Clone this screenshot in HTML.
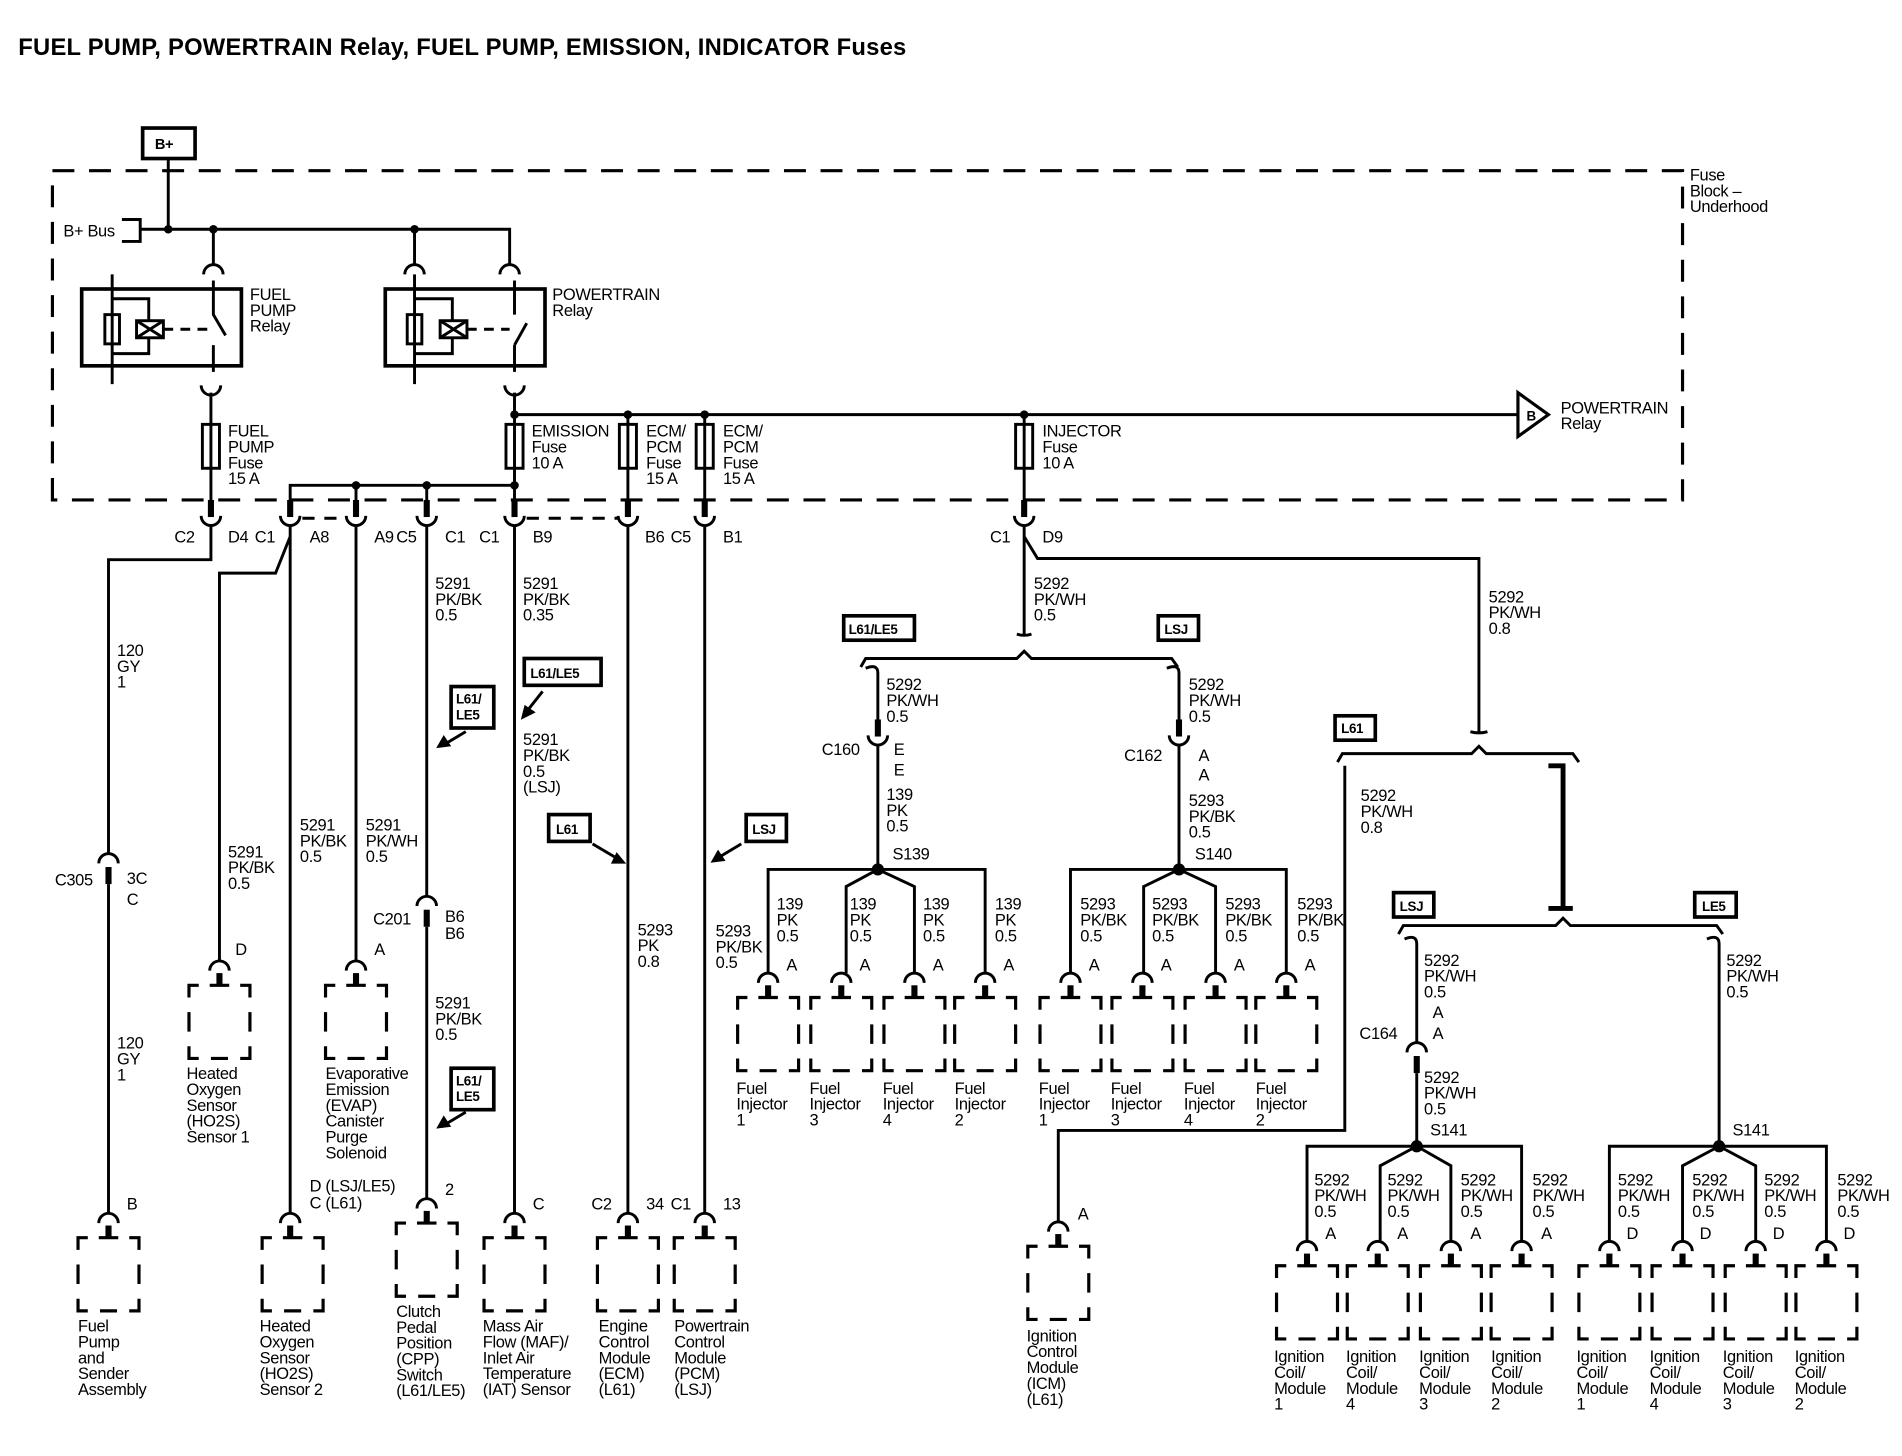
<!DOCTYPE html>
<html><head><meta charset="utf-8"><style>
html,body{margin:0;padding:0;background:#fff;}
svg{display:block}
text{font-family:"Liberation Sans",Arial,sans-serif;font-size:13.5px;fill:#000;letter-spacing:-0.3px}
.b{font-weight:bold}
</style></head><body>
<svg width="1902" height="1456" viewBox="0 0 1560 1194" preserveAspectRatio="none" xmlns="http://www.w3.org/2000/svg">
<defs>
<g id="cu"><rect x="-2.5" y="-22" width="5" height="14" fill="#000" stroke="none"/><path d="M-8,-9 A8,8 0 0 0 8,-9" fill="none" stroke="#000" stroke-width="2.4"/></g>
<g id="cd"><path d="M-8,8 A8,8 0 0 1 8,8" fill="none" stroke="#000" stroke-width="2.4"/><rect x="-2.5" y="11" width="5" height="14" fill="#000" stroke="none"/></g>
<g id="ct"><path d="M-8,8 A8,8 0 0 1 8,8" fill="none" stroke="#000" stroke-width="2.4"/><rect x="-2.5" y="10" width="5" height="10" fill="#000" stroke="none"/></g>
<path id="bx" d="M0,10 V0 H8 M42,0 H50 V10 M0,50 V60 H8 M42,60 H50 V50 M0,22 V38 M50,22 V38 M18,60 H32 M17,0 H33" fill="none" stroke="#000" stroke-width="2.6"/>
</defs>
<g fill="none" stroke="#000" stroke-width="2.4">
<rect x="117" y="105" width="43" height="25" stroke-width="3"/>
<path d="M138,130 V188 M100,180 H115 V198 H100 M115,188 H418 V218 M175,188 V218 M340,188 V218"/>
<path d="M43,410 V140 H1380 V410 Z" stroke-dasharray="18 12" stroke-width="2.6"/>
<rect x="67" y="237" width="131" height="63" stroke-width="3"/>
<rect x="316" y="237" width="131" height="63" stroke-width="3"/>
<path d="M92,225 V315 M92,245 H122 V263 M92,290 H122 V277" />
<rect x="86" y="258" width="12" height="24"/><rect x="112" y="263" width="22" height="14"/>
<path d="M112,263 L134,277 M112,277 L134,263"/>
<path d="M134,270 H170" stroke-dasharray="8 6"/>
<path d="M175,230 V258 L185,275 M175,283 V305"/>
<path d="M340,225 V315 M340,245 H371 V263 M340,290 H371 V277"/>
<rect x="334" y="258" width="12" height="24"/><rect x="361" y="263" width="22" height="14"/>
<path d="M361,263 L383,277 M361,277 L383,263"/>
<path d="M383,270 H418" stroke-dasharray="8 6"/>
<path d="M422,230 V258 M422,283 L432,265 M422,283 V305"/>
<path d="M167,225 A8,8 0 0 1 183,225 M332,225 A8,8 0 0 1 348,225 M410,225 A8,8 0 0 1 426,225"/>
<path d="M165,316 A8,8 0 0 0 181,316 M414,316 A8,8 0 0 0 430,316"/>
<path d="M173,322 V410 M422,322 V410 M422,340 H1245 M515,340 V410 M578,340 V410 M840,340 V410"/>
<rect x="166" y="348" width="14" height="36"/><rect x="415" y="348" width="14" height="36"/>
<rect x="508" y="348" width="14" height="36"/><rect x="571" y="348" width="14" height="36"/>
<rect x="833" y="348" width="14" height="36"/>
<path d="M1245,322 L1270,340 L1245,358 Z" stroke-width="2.6"/>
<path d="M238,410 V398 H422 M292,398 V410 M350,398 V410"/>
<path d="M248,425 H282 M432,425 H508" stroke-dasharray="10 8"/>
</g>
<g fill="#000"><circle cx="138" cy="188" r="3.5"/><circle cx="175" cy="188" r="3.5"/><circle cx="340" cy="188" r="3.5"/><circle cx="422" cy="340" r="3.5"/><circle cx="515" cy="340" r="3.5"/><circle cx="578" cy="340" r="3.5"/><circle cx="840" cy="340" r="3.5"/><circle cx="292" cy="398" r="3.5"/><circle cx="350" cy="398" r="3.5"/><circle cx="422" cy="398" r="3.5"/>
<circle cx="720" cy="713" r="5"/><circle cx="967" cy="713" r="5"/><circle cx="1162" cy="940" r="5"/><circle cx="1410" cy="940" r="5"/></g>
<use href="#cu" x="173" y="432"/><use href="#cu" x="238" y="432"/><use href="#cu" x="292" y="432"/><use href="#cu" x="350" y="432"/><use href="#cu" x="422" y="432"/><use href="#cu" x="515" y="432"/><use href="#cu" x="578" y="432"/><use href="#cu" x="840" y="432"/>
<g fill="none" stroke="#000" stroke-width="2.4">
<path d="M173,432 V459 H89 V700 M89,725 V995"/>
<path d="M238,432 V995 M238,440 L226,470 H180 V788"/>
<path d="M292,432 V788 M350,432 V735 M350,760 V983 M422,432 V995 M515,432 V995 M578,432 V995"/>
<path d="M840,432 V520 M834,520 Q840,522 846,520 M840,440 L851,458 H1213 V600 M1206,600 Q1213,602 1220,600"/>
<path d="M706,547 L710,540 H834 L840,534 L846,540 H961 L966,547"/>
<path d="M1097,625 L1101,618 H1207 L1213,612 L1219,618 H1290 L1295,625"/>
<path d="M1103,628 V927 H868 V1002"/>
<path d="M1270,628 H1282 V745 M1270,745 H1290" stroke-width="4"/>
<path d="M1147,766 L1151,759 H1276 L1282,753 L1288,759 H1408 L1413,766"/>
<path d="M710,548 Q720,544 720,552 V598 M720,612 V713 M630,798 V713 H808 V798 M720,713 L694,727 V798 M720,713 L750,727 V798"/>
<path d="M957,548 Q967,544 967,552 V598 M967,612 V713 M878,798 V713 H1055 V798 M967,713 L938,727 V798 M967,713 L997,727 V798"/>
<path d="M1152,770 Q1162,766 1162,774 V855 M1162,880 V940 M1072,1018 V940 H1248 V1018 M1162,940 L1132,956 V1018 M1162,940 L1190,956 V1018"/>
<path d="M1400,770 Q1410,766 1410,774 V940 M1320,1018 V940 H1498 V1018 M1410,940 L1380,956 V1018 M1410,940 L1440,956 V1018"/>
<rect x="370" y="563" width="35" height="34" stroke-width="3"/><path d="M382,600 L362,612"/><path d="M360,612 l8,-1 l-4,-6 z" fill="#000"/>
<rect x="370" y="876" width="35" height="34" stroke-width="3"/><path d="M382,912 L362,924"/><path d="M360,924 l8,-1 l-4,-6 z" fill="#000"/>
<rect x="430" y="540" width="63" height="22" stroke-width="3"/><path d="M445,567 L430,586"/><path d="M429,588 l2,-8 l6,4 z" fill="#000"/>
<rect x="450" y="668" width="34" height="22" stroke-width="3"/><path d="M486,692 L508,705"/><path d="M511,707 l-8,0 l3,-6 z" fill="#000"/>
<rect x="612" y="668" width="33" height="22" stroke-width="3"/><path d="M608,692 L588,704"/><path d="M585,706 l8,-1 l-4,-6 z" fill="#000"/>
<rect x="692" y="505" width="58" height="20" stroke-width="3"/>
<rect x="950" y="505" width="33" height="20" stroke-width="3"/>
<rect x="1095" y="587" width="33" height="20" stroke-width="3"/>
<rect x="1143" y="732" width="33" height="20" stroke-width="3"/>
<rect x="1390" y="732" width="34" height="20" stroke-width="3"/>
</g>
<use href="#cd" x="89" y="700"/><use href="#cd" x="350" y="735"/><use href="#cd" x="1162" y="855"/>
<use href="#cu" x="720" y="612"/><use href="#cu" x="967" y="612"/>
<use href="#ct" x="89" y="995"/><use href="#ct" x="180" y="788"/><use href="#ct" x="238" y="995"/><use href="#ct" x="292" y="788"/><use href="#ct" x="350" y="983"/><use href="#ct" x="422" y="995"/><use href="#ct" x="515" y="995"/><use href="#ct" x="578" y="995"/>
<use href="#ct" x="630" y="798"/><use href="#ct" x="690" y="798"/><use href="#ct" x="750" y="798"/><use href="#ct" x="808" y="798"/>
<use href="#ct" x="878" y="798"/><use href="#ct" x="937" y="798"/><use href="#ct" x="997" y="798"/><use href="#ct" x="1055" y="798"/>
<use href="#ct" x="868" y="1002"/>
<use href="#ct" x="1072" y="1018"/><use href="#ct" x="1130" y="1018"/><use href="#ct" x="1190" y="1018"/><use href="#ct" x="1248" y="1018"/>
<use href="#ct" x="1320" y="1018"/><use href="#ct" x="1380" y="1018"/><use href="#ct" x="1440" y="1018"/><use href="#ct" x="1498" y="1018"/>
<use href="#bx" x="64" y="1015"/><use href="#bx" x="155" y="808"/><use href="#bx" x="215" y="1015"/><use href="#bx" x="267" y="808"/><use href="#bx" x="325" y="1003"/><use href="#bx" x="397" y="1015"/><use href="#bx" x="490" y="1015"/><use href="#bx" x="553" y="1015"/>
<use href="#bx" x="605" y="818"/><use href="#bx" x="665" y="818"/><use href="#bx" x="725" y="818"/><use href="#bx" x="783" y="818"/>
<use href="#bx" x="853" y="818"/><use href="#bx" x="912" y="818"/><use href="#bx" x="972" y="818"/><use href="#bx" x="1030" y="818"/>
<use href="#bx" x="843" y="1022"/>
<use href="#bx" x="1047" y="1038"/><use href="#bx" x="1105" y="1038"/><use href="#bx" x="1165" y="1038"/><use href="#bx" x="1223" y="1038"/>
<use href="#bx" x="1295" y="1038"/><use href="#bx" x="1355" y="1038"/><use href="#bx" x="1415" y="1038"/><use href="#bx" x="1473" y="1038"/>

<text x="15" y="45" class="b" style="font-size:19.5px;letter-spacing:0.2px">FUEL PUMP, POWERTRAIN Relay, FUEL PUMP, EMISSION, INDICATOR Fuses</text>
<text x="127" y="122" class="b" style="font-size:12px">B+</text>
<text x="52" y="194">B+ Bus</text>
<text x="1386" y="148"><tspan x="1386">Fuse</tspan><tspan x="1386" dy="13">Block –</tspan><tspan x="1386" dy="13">Underhood</tspan></text>
<text x="205" y="246"><tspan x="205">FUEL</tspan><tspan x="205" dy="13">PUMP</tspan><tspan x="205" dy="13">Relay</tspan></text>
<text x="453" y="246"><tspan x="453">POWERTRAIN</tspan><tspan x="453" dy="13">Relay</tspan></text>
<text x="1252" y="345" class="b" style="font-size:11px">B</text>
<text x="1280" y="339"><tspan x="1280">POWERTRAIN</tspan><tspan x="1280" dy="13">Relay</tspan></text>
<text x="187" y="358"><tspan x="187">FUEL</tspan><tspan x="187" dy="13">PUMP</tspan><tspan x="187" dy="13">Fuse</tspan><tspan x="187" dy="13">15 A</tspan></text>
<text x="436" y="358"><tspan x="436">EMISSION</tspan><tspan x="436" dy="13">Fuse</tspan><tspan x="436" dy="13">10 A</tspan></text>
<text x="530" y="358"><tspan x="530">ECM/</tspan><tspan x="530" dy="13">PCM</tspan><tspan x="530" dy="13">Fuse</tspan><tspan x="530" dy="13">15 A</tspan></text>
<text x="593" y="358"><tspan x="593">ECM/</tspan><tspan x="593" dy="13">PCM</tspan><tspan x="593" dy="13">Fuse</tspan><tspan x="593" dy="13">15 A</tspan></text>
<text x="855" y="358"><tspan x="855">INJECTOR</tspan><tspan x="855" dy="13">Fuse</tspan><tspan x="855" dy="13">10 A</tspan></text>
<text x="143" y="445">C2</text><text x="187" y="445">D4</text><text x="209" y="445">C1</text><text x="254" y="445">A8</text><text x="307" y="445">A9</text><text x="325" y="445">C5</text><text x="365" y="445">C1</text><text x="393" y="445">C1</text><text x="437" y="445">B9</text><text x="529" y="445">B6</text><text x="550" y="445">C5</text><text x="593" y="445">B1</text><text x="812" y="445">C1</text><text x="855" y="445">D9</text>
<text x="96" y="538"><tspan x="96">120</tspan><tspan x="96" dy="13">GY</tspan><tspan x="96" dy="13">1</tspan></text>
<text x="45" y="726">C305</text><text x="104" y="725">3C</text><text x="104" y="742">C</text>
<text x="96" y="860"><tspan x="96">120</tspan><tspan x="96" dy="13">GY</tspan><tspan x="96" dy="13">1</tspan></text>
<text x="104" y="992">B</text>
<text x="64" y="1092"><tspan x="64">Fuel</tspan><tspan x="64" dy="13">Pump</tspan><tspan x="64" dy="13">and</tspan><tspan x="64" dy="13">Sender</tspan><tspan x="64" dy="13">Assembly</tspan></text>
<text x="187" y="703"><tspan x="187">5291</tspan><tspan x="187" dy="13">PK/BK</tspan><tspan x="187" dy="13">0.5</tspan></text>
<text x="193" y="783">D</text>
<text x="153" y="885"><tspan x="153">Heated</tspan><tspan x="153" dy="13">Oxygen</tspan><tspan x="153" dy="13">Sensor</tspan><tspan x="153" dy="13">(HO2S)</tspan><tspan x="153" dy="13">Sensor 1</tspan></text>
<text x="246" y="681"><tspan x="246">5291</tspan><tspan x="246" dy="13">PK/BK</tspan><tspan x="246" dy="13">0.5</tspan></text>
<text x="254" y="977">D (LSJ/LE5)</text><text x="254" y="991">C (L61)</text>
<text x="213" y="1092"><tspan x="213">Heated</tspan><tspan x="213" dy="13">Oxygen</tspan><tspan x="213" dy="13">Sensor</tspan><tspan x="213" dy="13">(HO2S)</tspan><tspan x="213" dy="13">Sensor 2</tspan></text>
<text x="300" y="681"><tspan x="300">5291</tspan><tspan x="300" dy="13">PK/WH</tspan><tspan x="300" dy="13">0.5</tspan></text>
<text x="307" y="783">A</text>
<text x="267" y="885"><tspan x="267">Evaporative</tspan><tspan x="267" dy="13">Emission</tspan><tspan x="267" dy="13">(EVAP)</tspan><tspan x="267" dy="13">Canister</tspan><tspan x="267" dy="13">Purge</tspan><tspan x="267" dy="13">Solenoid</tspan></text>
<text x="357" y="483"><tspan x="357">5291</tspan><tspan x="357" dy="13">PK/BK</tspan><tspan x="357" dy="13">0.5</tspan></text>
<text x="374" y="577" class="b" style="font-size:11px"><tspan x="374">L61/</tspan><tspan x="374" dy="13">LE5</tspan></text>
<text x="374" y="890" class="b" style="font-size:11px"><tspan x="374">L61/</tspan><tspan x="374" dy="13">LE5</tspan></text>
<text x="306" y="758">C201</text><text x="365" y="756">B6</text><text x="365" y="770">B6</text>
<text x="357" y="827"><tspan x="357">5291</tspan><tspan x="357" dy="13">PK/BK</tspan><tspan x="357" dy="13">0.5</tspan></text>
<text x="365" y="980">2</text>
<text x="325" y="1080"><tspan x="325">Clutch</tspan><tspan x="325" dy="13">Pedal</tspan><tspan x="325" dy="13">Position</tspan><tspan x="325" dy="13">(CPP)</tspan><tspan x="325" dy="13">Switch</tspan><tspan x="325" dy="13">(L61/LE5)</tspan></text>
<text x="429" y="483"><tspan x="429">5291</tspan><tspan x="429" dy="13">PK/BK</tspan><tspan x="429" dy="13">0.35</tspan></text>
<text x="435" y="556" class="b" style="font-size:11px">L61/LE5</text>
<text x="429" y="611"><tspan x="429">5291</tspan><tspan x="429" dy="13">PK/BK</tspan><tspan x="429" dy="13">0.5</tspan><tspan x="429" dy="13">(LSJ)</tspan></text>
<text x="437" y="992">C</text>
<text x="396" y="1092"><tspan x="396">Mass Air</tspan><tspan x="396" dy="13">Flow (MAF)/</tspan><tspan x="396" dy="13">Inlet Air</tspan><tspan x="396" dy="13">Temperature</tspan><tspan x="396" dy="13">(IAT) Sensor</tspan></text>
<text x="456" y="684" class="b" style="font-size:11px">L61</text>
<text x="617" y="684" class="b" style="font-size:11px">LSJ</text>
<text x="523" y="767"><tspan x="523">5293</tspan><tspan x="523" dy="13">PK</tspan><tspan x="523" dy="13">0.8</tspan></text>
<text x="485" y="992">C2</text><text x="530" y="992">34</text><text x="550" y="992">C1</text><text x="593" y="992">13</text>
<text x="491" y="1092"><tspan x="491">Engine</tspan><tspan x="491" dy="13">Control</tspan><tspan x="491" dy="13">Module</tspan><tspan x="491" dy="13">(ECM)</tspan><tspan x="491" dy="13">(L61)</tspan></text>
<text x="553" y="1092"><tspan x="553">Powertrain</tspan><tspan x="553" dy="13">Control</tspan><tspan x="553" dy="13">Module</tspan><tspan x="553" dy="13">(PCM)</tspan><tspan x="553" dy="13">(LSJ)</tspan></text>
<text x="848" y="483"><tspan x="848">5292</tspan><tspan x="848" dy="13">PK/WH</tspan><tspan x="848" dy="13">0.5</tspan></text>
<text x="1221" y="494"><tspan x="1221">5292</tspan><tspan x="1221" dy="13">PK/WH</tspan><tspan x="1221" dy="13">0.8</tspan></text>
<text x="696" y="520" class="b" style="font-size:11px">L61/LE5</text>
<text x="955" y="520" class="b" style="font-size:11px">LSJ</text>
<text x="727" y="566"><tspan x="727">5292</tspan><tspan x="727" dy="13">PK/WH</tspan><tspan x="727" dy="13">0.5</tspan></text>
<text x="975" y="566"><tspan x="975">5292</tspan><tspan x="975" dy="13">PK/WH</tspan><tspan x="975" dy="13">0.5</tspan></text>
<text x="674" y="619">C160</text><text x="733" y="619">E</text><text x="733" y="636">E</text>
<text x="922" y="624">C162</text><text x="983" y="624">A</text><text x="983" y="640">A</text>
<text x="727" y="656"><tspan x="727">139</tspan><tspan x="727" dy="13">PK</tspan><tspan x="727" dy="13">0.5</tspan></text>
<text x="975" y="661"><tspan x="975">5293</tspan><tspan x="975" dy="13">PK/BK</tspan><tspan x="975" dy="13">0.5</tspan></text>
<text x="732" y="705">S139</text><text x="980" y="705">S140</text>
<text x="587" y="768"><tspan x="587">5293</tspan><tspan x="587" dy="13">PK/BK</tspan><tspan x="587" dy="13">0.5</tspan></text>
<text x="637" y="746"><tspan x="637">139</tspan><tspan x="637" dy="13">PK</tspan><tspan x="637" dy="13">0.5</tspan></text>
<text x="697" y="746"><tspan x="697">139</tspan><tspan x="697" dy="13">PK</tspan><tspan x="697" dy="13">0.5</tspan></text>
<text x="757" y="746"><tspan x="757">139</tspan><tspan x="757" dy="13">PK</tspan><tspan x="757" dy="13">0.5</tspan></text>
<text x="816" y="746"><tspan x="816">139</tspan><tspan x="816" dy="13">PK</tspan><tspan x="816" dy="13">0.5</tspan></text>
<text x="886" y="746"><tspan x="886">5293</tspan><tspan x="886" dy="13">PK/BK</tspan><tspan x="886" dy="13">0.5</tspan></text>
<text x="945" y="746"><tspan x="945">5293</tspan><tspan x="945" dy="13">PK/BK</tspan><tspan x="945" dy="13">0.5</tspan></text>
<text x="1005" y="746"><tspan x="1005">5293</tspan><tspan x="1005" dy="13">PK/BK</tspan><tspan x="1005" dy="13">0.5</tspan></text>
<text x="1064" y="746"><tspan x="1064">5293</tspan><tspan x="1064" dy="13">PK/BK</tspan><tspan x="1064" dy="13">0.5</tspan></text>
<text x="645" y="796">A</text><text x="705" y="796">A</text><text x="765" y="796">A</text><text x="823" y="796">A</text>
<text x="893" y="796">A</text><text x="952" y="796">A</text><text x="1012" y="796">A</text><text x="1070" y="796">A</text>
<text x="604" y="897"><tspan x="604">Fuel</tspan><tspan x="604" dy="13">Injector</tspan><tspan x="604" dy="13">1</tspan></text>
<text x="664" y="897"><tspan x="664">Fuel</tspan><tspan x="664" dy="13">Injector</tspan><tspan x="664" dy="13">3</tspan></text>
<text x="724" y="897"><tspan x="724">Fuel</tspan><tspan x="724" dy="13">Injector</tspan><tspan x="724" dy="13">4</tspan></text>
<text x="783" y="897"><tspan x="783">Fuel</tspan><tspan x="783" dy="13">Injector</tspan><tspan x="783" dy="13">2</tspan></text>
<text x="852" y="897"><tspan x="852">Fuel</tspan><tspan x="852" dy="13">Injector</tspan><tspan x="852" dy="13">1</tspan></text>
<text x="911" y="897"><tspan x="911">Fuel</tspan><tspan x="911" dy="13">Injector</tspan><tspan x="911" dy="13">3</tspan></text>
<text x="971" y="897"><tspan x="971">Fuel</tspan><tspan x="971" dy="13">Injector</tspan><tspan x="971" dy="13">4</tspan></text>
<text x="1030" y="897"><tspan x="1030">Fuel</tspan><tspan x="1030" dy="13">Injector</tspan><tspan x="1030" dy="13">2</tspan></text>
<text x="1100" y="601" class="b" style="font-size:11px">L61</text>
<text x="1148" y="747" class="b" style="font-size:11px">LSJ</text>
<text x="1396" y="747" class="b" style="font-size:11px">LE5</text>
<text x="1116" y="657"><tspan x="1116">5292</tspan><tspan x="1116" dy="13">PK/WH</tspan><tspan x="1116" dy="13">0.8</tspan></text>
<text x="884" y="1000">A</text>
<text x="842" y="1100"><tspan x="842">Ignition</tspan><tspan x="842" dy="13">Control</tspan><tspan x="842" dy="13">Module</tspan><tspan x="842" dy="13">(ICM)</tspan><tspan x="842" dy="13">(L61)</tspan></text>
<text x="1168" y="792"><tspan x="1168">5292</tspan><tspan x="1168" dy="13">PK/WH</tspan><tspan x="1168" dy="13">0.5</tspan></text>
<text x="1175" y="835">A</text><text x="1175" y="852">A</text><text x="1115" y="852">C164</text>
<text x="1168" y="888"><tspan x="1168">5292</tspan><tspan x="1168" dy="13">PK/WH</tspan><tspan x="1168" dy="13">0.5</tspan></text>
<text x="1173" y="931">S141</text>
<text x="1416" y="792"><tspan x="1416">5292</tspan><tspan x="1416" dy="13">PK/WH</tspan><tspan x="1416" dy="13">0.5</tspan></text>
<text x="1421" y="931">S141</text>
<text x="1078" y="972"><tspan x="1078">5292</tspan><tspan x="1078" dy="13">PK/WH</tspan><tspan x="1078" dy="13">0.5</tspan></text>
<text x="1138" y="972"><tspan x="1138">5292</tspan><tspan x="1138" dy="13">PK/WH</tspan><tspan x="1138" dy="13">0.5</tspan></text>
<text x="1198" y="972"><tspan x="1198">5292</tspan><tspan x="1198" dy="13">PK/WH</tspan><tspan x="1198" dy="13">0.5</tspan></text>
<text x="1257" y="972"><tspan x="1257">5292</tspan><tspan x="1257" dy="13">PK/WH</tspan><tspan x="1257" dy="13">0.5</tspan></text>
<text x="1327" y="972"><tspan x="1327">5292</tspan><tspan x="1327" dy="13">PK/WH</tspan><tspan x="1327" dy="13">0.5</tspan></text>
<text x="1388" y="972"><tspan x="1388">5292</tspan><tspan x="1388" dy="13">PK/WH</tspan><tspan x="1388" dy="13">0.5</tspan></text>
<text x="1447" y="972"><tspan x="1447">5292</tspan><tspan x="1447" dy="13">PK/WH</tspan><tspan x="1447" dy="13">0.5</tspan></text>
<text x="1507" y="972"><tspan x="1507">5292</tspan><tspan x="1507" dy="13">PK/WH</tspan><tspan x="1507" dy="13">0.5</tspan></text>
<text x="1087" y="1016">A</text><text x="1146" y="1016">A</text><text x="1206" y="1016">A</text><text x="1264" y="1016">A</text>
<text x="1334" y="1016">D</text><text x="1394" y="1016">D</text><text x="1454" y="1016">D</text><text x="1512" y="1016">D</text>
<text x="1045" y="1117"><tspan x="1045">Ignition</tspan><tspan x="1045" dy="13">Coil/</tspan><tspan x="1045" dy="13">Module</tspan><tspan x="1045" dy="13">1</tspan></text>
<text x="1104" y="1117"><tspan x="1104">Ignition</tspan><tspan x="1104" dy="13">Coil/</tspan><tspan x="1104" dy="13">Module</tspan><tspan x="1104" dy="13">4</tspan></text>
<text x="1164" y="1117"><tspan x="1164">Ignition</tspan><tspan x="1164" dy="13">Coil/</tspan><tspan x="1164" dy="13">Module</tspan><tspan x="1164" dy="13">3</tspan></text>
<text x="1223" y="1117"><tspan x="1223">Ignition</tspan><tspan x="1223" dy="13">Coil/</tspan><tspan x="1223" dy="13">Module</tspan><tspan x="1223" dy="13">2</tspan></text>
<text x="1293" y="1117"><tspan x="1293">Ignition</tspan><tspan x="1293" dy="13">Coil/</tspan><tspan x="1293" dy="13">Module</tspan><tspan x="1293" dy="13">1</tspan></text>
<text x="1353" y="1117"><tspan x="1353">Ignition</tspan><tspan x="1353" dy="13">Coil/</tspan><tspan x="1353" dy="13">Module</tspan><tspan x="1353" dy="13">4</tspan></text>
<text x="1413" y="1117"><tspan x="1413">Ignition</tspan><tspan x="1413" dy="13">Coil/</tspan><tspan x="1413" dy="13">Module</tspan><tspan x="1413" dy="13">3</tspan></text>
<text x="1472" y="1117"><tspan x="1472">Ignition</tspan><tspan x="1472" dy="13">Coil/</tspan><tspan x="1472" dy="13">Module</tspan><tspan x="1472" dy="13">2</tspan></text>
</svg>
</body></html>
